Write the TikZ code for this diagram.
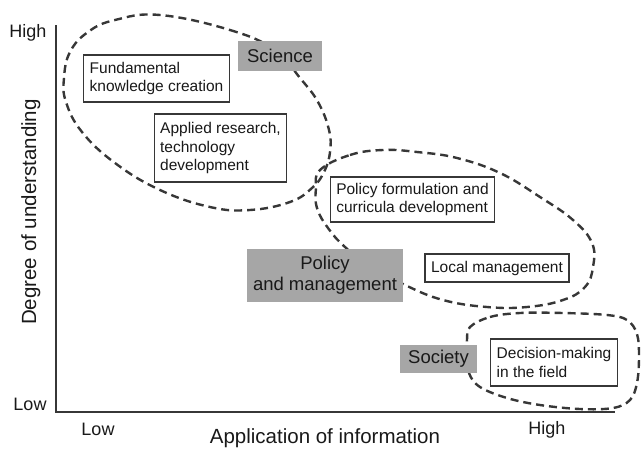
\documentclass[tikz,border=0pt]{standalone}
\usepackage{fontspec}
\setmainfont{Liberation Sans}
\usepackage{tikz}

\definecolor{boxgray}{RGB}{166,166,166}
\definecolor{linegray}{RGB}{55,55,55}
\definecolor{textgray}{RGB}{25,25,25}

\begin{document}
\begin{tikzpicture}[x=1pt,y=-1pt,
  infobox/.style={draw=linegray,line width=1.2pt,fill=white,text=textgray,align=left,
    inner xsep=6pt,inner ysep=3pt,font=\fontsize{15.5}{18.5}\selectfont},
  groupbox/.style={fill=boxgray,text=textgray,align=center,inner sep=0pt,
    font=\fontsize{18.5}{21}\selectfont},
  region/.style={draw=linegray,line width=2.4pt,dash pattern=on 8pt off 5pt},
  axislabel/.style={text=textgray,anchor=base,font=\fontsize{18}{20}\selectfont}]

\useasboundingbox (0,0) rectangle (641,448);

% dashed regions first, so that the boxes sit on top of them
\draw[region] plot[smooth cycle,tension=0.7] coordinates {
  (160,15) (230,30) (275,50) (300,78) (318,102) (329,130) (330,152)
  (324,172) (312,188) (290,202) (250,210) (210,207) (160,190) (115,163)
  (82,132) (66,102) (64,78) (70,52) (88,32) (115,20)};
\draw[region] plot[smooth cycle,tension=0.7] coordinates {
  (320,170) (350,155) (383,150) (417,152) (457,158) (500,173) (540,197)
  (573,220) (592,243) (593,267) (585,287) (563,300) (527,307) (487,307)
  (443,300) (405,285) (370,266) (345,247) (328,228) (317,208) (316,188)};
\draw[region] plot[smooth cycle,tension=0.6] coordinates {
  (470,327) (490,317) (520,313) (563,313) (607,315) (627,320) (637,334)
  (639,357) (637,383) (630,400) (613,408) (580,409) (540,405) (507,398)
  (480,387) (469,373) (467,353) (467,340)};

% axes
\draw[linegray,line width=2.5pt] (56,25) -- (56,412) -- (615,412);

% axis labels
\node[axislabel] (yhigh) at (28,37) {High};
\node[axislabel] (ylow) at (30,410) {Low};
\node[axislabel] (xlow) at (98,435) {Low};
\node[axislabel] (xhigh) at (547,434) {High};
\node[axislabel,font=\fontsize{20.5}{22}\selectfont] (xtitle) at (325,443) {Application of information};
\node[axislabel,rotate=90,font=\fontsize{20.5}{22}\selectfont] (ytitle) at (36,212) {Degree of understanding};

% the three groups
\node[groupbox,minimum width=84pt,minimum height=30pt] (sci) at (280,56) {Science};
\node[groupbox,minimum width=156pt,minimum height=53pt] (policy) at (325,275.5) {Policy\\and management};
\node[groupbox,minimum width=77pt,minimum height=28pt] (society) at (438.5,359) {Society};

% what each group does
\node[infobox,minimum height=47pt] (fund) at (156.5,78.5) {Fundamental\\knowledge creation};
\node[infobox,minimum height=68pt] (applied) at (220.5,148) {Applied research,\\technology\\development};
\node[infobox,minimum height=45pt] (polform) at (412.5,199.5) {Policy formulation and\\curricula development};
\node[infobox,minimum height=28pt] (localman) at (497,268) {Local management};
\node[infobox,minimum height=47pt] (decision) at (554,362.5) {Decision-making\\in the field};

\end{tikzpicture}
\end{document}
